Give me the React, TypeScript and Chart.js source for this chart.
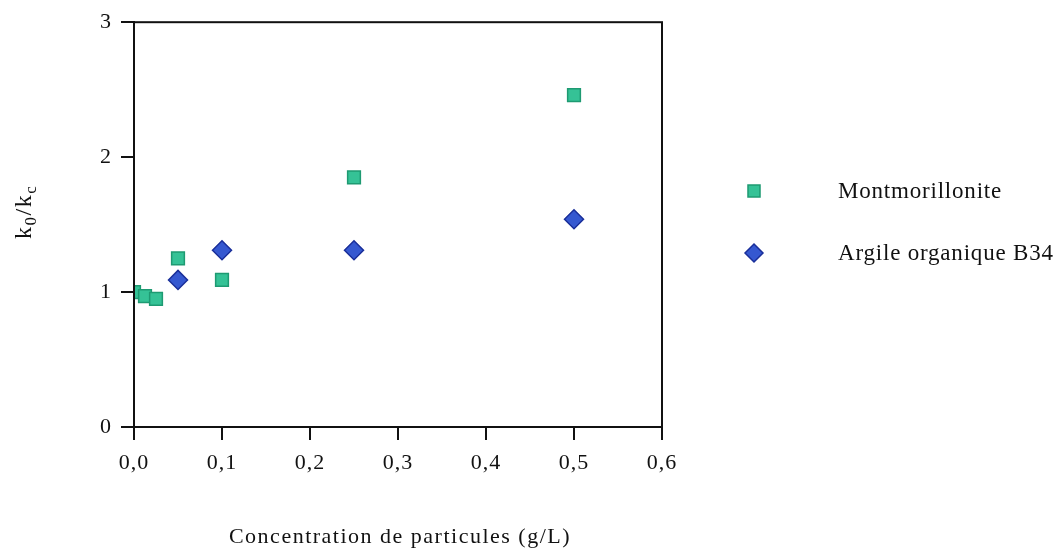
import React, { useEffect, useRef } from "react";
import { Chart, registerables } from "chart.js";

Chart.register(...registerables);

const montX = [0, 0.0125, 0.025, 0.05, 0.1, 0.25, 0.5];
const montY = [1.0, 0.97, 0.95, 1.25, 1.09, 1.85, 2.46];
const argX = [0.05, 0.1, 0.25, 0.5];
const argY = [1.09, 1.31, 1.31, 1.54];
const seriesNames = ["Montmorillonite", "Argile organique B34"];
const xTitle = "Concentration de particules (g/L)";

const GREEN = "#35c296";
const GREEN_B = "#1e9a72";
const BLUE = "#3558d0";
const BLUE_B = "#1a2f9a";
const FONT = "'Liberation Serif', 'Times New Roman', serif";

const framePlugin = {
  id: "frameAndText",
  beforeDraw(chart: any) {
    chart.ctx.letterSpacing = "1px";
  },
  afterDraw(chart: any) {
    const { ctx, chartArea: a } = chart;
    ctx.save();
    ctx.strokeStyle = "#111";
    ctx.lineWidth = 2;
    ctx.strokeRect(a.left, a.top, a.right - a.left, a.bottom - a.top);

    // x title
    ctx.fillStyle = "#111";
    ctx.letterSpacing = "1.5px";
    ctx.font = `22px ${FONT}`;
    ctx.textAlign = "center";
    ctx.textBaseline = "middle";
    ctx.fillText(xTitle, (a.left + a.right) / 2 + 2, 537);

    // y title with subscripts
    ctx.save();
    ctx.translate(31, 239);
    ctx.rotate(-Math.PI / 2);
    ctx.textAlign = "left";
    ctx.textBaseline = "alphabetic";
    let x = 0;
    const big = `24px ${FONT}`;
    const small = `17px ${FONT}`;
    const parts: [string, boolean][] = [["k", false], ["0", true], ["/k", false], ["c", true]];
    for (const [t, sub] of parts) {
      ctx.font = sub ? small : big;
      ctx.fillText(t, x, sub ? 5 : 0);
      x += ctx.measureText(t).width;
    }
    ctx.restore();

    // legend
    const items = [
      { y: 191, color: GREEN, border: GREEN_B, style: "rect", r: 8.5 },
      { y: 253, color: BLUE, border: BLUE_B, style: "rectRot", r: 9 },
    ];
    items.forEach((it, i) => {
      ctx.save();
      ctx.fillStyle = it.color;
      ctx.strokeStyle = it.border;
      ctx.lineWidth = 1.5;
      ctx.beginPath();
      if (it.style === "rect") {
        const s = it.r * Math.SQRT1_2;
        ctx.rect(754 - s, it.y - s, 2 * s, 2 * s);
      } else {
        ctx.moveTo(754, it.y - it.r);
        ctx.lineTo(754 + it.r, it.y);
        ctx.lineTo(754, it.y + it.r);
        ctx.lineTo(754 - it.r, it.y);
        ctx.closePath();
      }
      ctx.fill();
      ctx.stroke();
      ctx.restore();
      ctx.fillStyle = "#111";
      ctx.font = `23px ${FONT}`;
      ctx.letterSpacing = "0.8px";
      ctx.textAlign = "left";
      ctx.textBaseline = "middle";
      ctx.fillText(seriesNames[i], 838, it.y + 1);
    });
    ctx.restore();
  },
};

export default function App() {
  const ref = useRef<HTMLCanvasElement | null>(null);
  useEffect(() => {
    document.body.style.margin = "0";
    const chart = new Chart(ref.current as HTMLCanvasElement, {
      type: "scatter",
      data: {
        datasets: [
          {
            label: seriesNames[0],
            data: montX.map((x, i) => ({ x, y: montY[i] })),
            pointStyle: "rect",
            pointRadius: 9,
            backgroundColor: GREEN,
            borderColor: GREEN_B,
            borderWidth: 1.5,
          },
          {
            label: seriesNames[1],
            data: argX.map((x, i) => ({ x, y: argY[i] })),
            pointStyle: "rectRot",
            pointRadius: 9.5,
            backgroundColor: BLUE,
            borderColor: BLUE_B,
            borderWidth: 1.5,
          },
        ],
      },
      options: {
        animation: false,
        responsive: false,
        maintainAspectRatio: false,
        layout: { padding: { left: 0, right: 395, top: 18, bottom: 0 } },
        plugins: { legend: { display: false }, tooltip: { enabled: false } },
        scales: {
          x: {
            type: "linear",
            min: 0,
            max: 0.6,
            afterFit: (s: any) => {
              s.height = 123;
            },
            ticks: {
              stepSize: 0.1,
              color: "#111",
              padding: 10,
              font: { family: FONT, size: 22 },
              callback: (v: any) => Number(v).toFixed(1).replace(".", ","),
            },
            grid: { drawOnChartArea: false, drawTicks: true, tickLength: 13, color: "#111", lineWidth: 2 },
            border: { display: true, color: "#111", width: 2 },
          },
          y: {
            type: "linear",
            min: 0,
            max: 3,
            afterFit: (s: any) => {
              s.width = 134;
            },
            ticks: {
              stepSize: 1,
              color: "#111",
              padding: 9,
              font: { family: FONT, size: 22 },
            },
            grid: { drawOnChartArea: false, drawTicks: true, tickLength: 13, color: "#111", lineWidth: 2 },
            border: { display: true, color: "#111", width: 2 },
          },
        },
      },
      plugins: [framePlugin],
    } as any);
    return () => chart.destroy();
  }, []);
  return (
    <div style={{ position: "absolute", left: 0, top: 0, width: 1057, height: 550, background: "#fff" }}>
      <canvas ref={ref} width={1057} height={550} />
    </div>
  );
}
